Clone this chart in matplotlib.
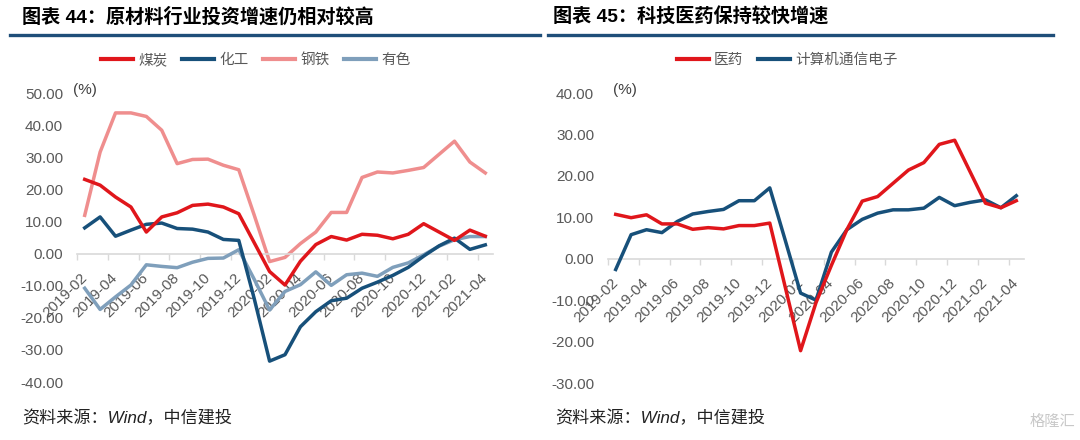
import numpy as np
import matplotlib
matplotlib.use("Agg")
import matplotlib.pyplot as plt
from matplotlib.lines import Line2D

plt.rcParams['font.family'] = ['Liberation Sans', 'Noto Sans CJK SC', 'DejaVu Sans']

# monthly labels 2019-02 .. 2021-04
months = (["2019-%02d" % m for m in range(2, 13)] +
          ["2020-%02d" % m for m in range(1, 13)] +
          ["2021-%02d" % m for m in range(1, 5)])

# left chart: 原材料行业投资增速 (%)
coal = [23.1, 21.3, 17.6, 14.5, 6.7, 11.4, 12.7, 15.0, 15.4, 14.5, 12.4, 3.4, -5.6, -9.8,
        -2.4, 2.8, 5.3, 4.2, 6.0, 5.7, 4.6, 6.0, 9.3, 6.7, 4.1, 7.3, 5.4]
chem = [8.0, 11.4, 5.4, 7.3, 9.1, 9.5, 7.8, 7.6, 6.7, 4.4, 4.1, -14.0, -33.5, -31.5,
        -22.8, -18.1, -14.7, -13.9, -10.8, -8.9, -6.8, -4.3, -0.8, 2.4, 4.8, 1.3, 2.7]
steel = [11.9, 31.6, 43.8, 43.8, 42.7, 38.4, 28.0, 29.3, 29.4, 27.5, 26.1, 12.0, -2.5, -1.2,
         3.1, 6.7, 12.8, 12.8, 23.7, 25.4, 25.1, 25.9, 26.8, 30.9, 35.0, 28.5, 25.1]
nonf = [-10.8, -17.4, -13.5, -9.8, -3.5, -4.0, -4.4, -2.7, -1.5, -1.4, 1.2, -8.0, -17.6, -11.8,
        -9.7, -5.7, -9.9, -6.6, -6.1, -7.1, -4.3, -2.9, -0.4, 2.3, 4.3, 5.3, 5.3]

# right chart: 医药 / 计算机通信电子 (%)
med = [10.7, 9.9, 10.6, 8.4, 8.4, 7.1, 7.5, 7.2, 8.0, 8.0, 8.6, -6.8, -22.2, -10.6,
       -1.6, 7.0, 13.9, 15.0, 18.2, 21.4, 23.2, 27.6, 28.6, 21.0, 13.4, 12.3, 14.0]
comp = [-2.6, 5.8, 7.0, 6.3, 9.0, 10.8, 11.4, 11.9, 14.0, 14.0, 17.1, 4.5, -8.3, -10.0,
        1.6, 7.0, 9.5, 11.0, 11.8, 11.8, 12.2, 14.8, 12.8, 13.6, 14.2, 12.3, 15.2]

RED = '#E0161B'
DARK = '#17507A'
PINK = '#EF8E8E'
LBLUE = '#7F9FBB'
GRAY = '#595959'
AXIS = '#D9D9D9'

fig = plt.figure(figsize=(10.8, 4.4), dpi=100)

def W(px):
    return px / 1080.0

def H(py):
    return 1 - py / 440.0

def setup(ax, ylo, yhi):
    x = np.arange(len(months))
    ax.set_xlim(-0.5, len(months) - 0.5)
    ax.set_ylim(ylo, yhi)
    for s in ['left', 'right', 'top']:
        ax.spines[s].set_visible(False)
    ax.spines['bottom'].set_position(('data', 0))
    ax.spines['bottom'].set_color(AXIS)
    ax.spines['bottom'].set_linewidth(1.2)
    ax.set_yticks(np.arange(ylo, yhi + 1, 10))
    ax.set_yticklabels(["%.2f" % v for v in np.arange(ylo, yhi + 1, 10)])
    ax.tick_params(axis='y', length=0, pad=10, labelsize=11, labelcolor=GRAY)
    ax.set_xticks(x[::2])
    ax.set_xticklabels(months[::2], rotation=45, ha='right', va='center',
                       rotation_mode='anchor')
    ax.tick_params(axis='x', which='major', length=0, pad=16, labelsize=11, labelcolor=GRAY)
    ax.set_xticks(np.arange(-0.5, len(months) - 1, 2), minor=True)
    ax.tick_params(axis='x', which='minor', length=4, width=1, color=AXIS, direction='out')
    ax.patch.set_alpha(0)
    return x

# left panel
ax1 = fig.add_axes([W(77), H(382), W(416), H(93) - H(382)])
x = setup(ax1, -40, 50)
ax1.plot(x, steel, color=PINK, lw=2.5, zorder=2)
ax1.plot(x, nonf, color=LBLUE, lw=2.5, zorder=3)
ax1.plot(x, chem, color=DARK, lw=2.5, zorder=4)
ax1.plot(x, coal, color=RED, lw=2.5, zorder=5)

# right panel
ax2 = fig.add_axes([W(608), H(383), W(416), H(93) - H(383)])
x = setup(ax2, -30, 40)
ax2.plot(x, comp, color=DARK, lw=2.5, zorder=4)
ax2.plot(x, med, color=RED, lw=2.5, zorder=5)

# (%) units
fig.text(W(73), H(90), "(%)", fontsize=11, color='#404040', va='center')
fig.text(W(613), H(90), "(%)", fontsize=11, color='#404040', va='center')

# titles and rules
fig.text(W(22), H(17), "图表 44：原材料行业投资增速仍相对较高", fontsize=13.8,
         fontweight='bold', va='center', color='black')
fig.text(W(553), H(17), "图表 45：科技医药保持较快增速", fontsize=13.8,
         fontweight='bold', va='center', color='black')
fig.add_artist(Line2D([W(10), W(540)], [H(35), H(35)], color='#1F4E79', lw=2.4))
fig.add_artist(Line2D([W(548), W(1053)], [H(35), H(35)], color='#1F4E79', lw=2.4))

# legends
h1 = [Line2D([], [], color=c, lw=3) for c in [RED, DARK, PINK, LBLUE]]
fig.legend(h1, ["煤炭", "化工", "钢铁", "有色"], loc='center', bbox_to_anchor=(W(256), H(60)),
           ncol=4, frameon=False, fontsize=10.5, labelcolor=GRAY, handlelength=2.2,
           handletextpad=0.35, columnspacing=1.0)
h2 = [Line2D([], [], color=c, lw=3) for c in [RED, DARK]]
fig.legend(h2, ["医药", "计算机通信电子"], loc='center', bbox_to_anchor=(W(787), H(60)),
           ncol=2, frameon=False, fontsize=10.5, labelcolor=GRAY, handlelength=2.2,
           handletextpad=0.35, columnspacing=1.0)

# source notes
fig.text(W(22), H(418), "资料来源：Wind，中信建投", fontsize=12.3, style='italic',
         va='center', color='#222222')
fig.text(W(555), H(418), "资料来源：Wind，中信建投", fontsize=12.3, style='italic',
         va='center', color='#222222')
fig.text(W(1075), H(422), "格隆汇", fontsize=11, color='#C8C8C8', ha='right', va='center')

fig.savefig("out.png", dpi=100)
